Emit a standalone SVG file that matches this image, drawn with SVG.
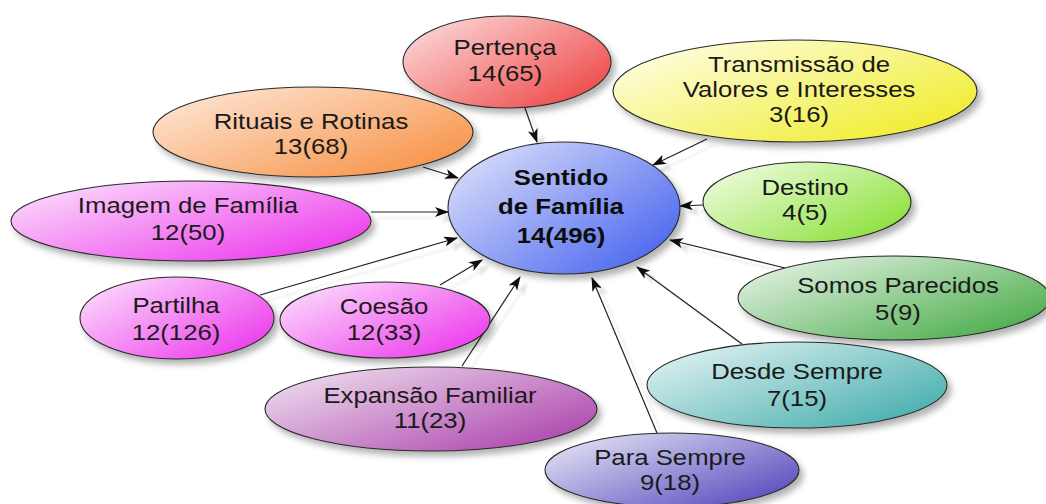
<svg xmlns="http://www.w3.org/2000/svg" width="1046" height="504" viewBox="0 0 1046 504">
<style>
.n{stroke:#2a2a2a;stroke-width:1.1}
.t{font-family:"Liberation Sans",Arial,sans-serif;font-size:22px;fill:#1a1a1a;text-anchor:middle}
.b{font-weight:bold;fill:#0d0d0d}
.c{stroke:#222;stroke-width:1.2;fill:none;marker-end:url(#ah)}
</style>
<defs>
<filter id="sh" x="-20%" y="-20%" width="140%" height="150%">
<feDropShadow dx="4" dy="5" stdDeviation="3" flood-color="#000" flood-opacity="0.3"/>
</filter>
<filter id="csh" x="-20%" y="-20%" width="140%" height="140%">
<feDropShadow dx="7" dy="6" stdDeviation="1.2" flood-color="#000" flood-opacity="0.1"/>
</filter>
<marker id="ah" viewBox="0 0 14 10" refX="13" refY="5" markerWidth="14" markerHeight="10" markerUnits="userSpaceOnUse" orient="auto">
<path d="M0,0 L14,5 L0,10 L3.5,5 z" fill="#111"/>
</marker>
<linearGradient id="gC" x1="0" y1="0" x2="1" y2="0.8"><stop offset="0" stop-color="#e6e8fb"/><stop offset="1" stop-color="#4a66ee"/></linearGradient>
<linearGradient id="gP" x1="0" y1="0" x2="1" y2="0.8"><stop offset="0" stop-color="#fde4e4"/><stop offset="1" stop-color="#ee4848"/></linearGradient>
<linearGradient id="gT" x1="0" y1="0" x2="1" y2="0.8"><stop offset="0" stop-color="#fffff2"/><stop offset="1" stop-color="#f0ec2c"/></linearGradient>
<linearGradient id="gR" x1="0" y1="0" x2="1" y2="0.8"><stop offset="0" stop-color="#feece0"/><stop offset="1" stop-color="#f79246"/></linearGradient>
<linearGradient id="gD" x1="0" y1="0" x2="1" y2="0.8"><stop offset="0" stop-color="#f6ffec"/><stop offset="1" stop-color="#8ce03a"/></linearGradient>
<linearGradient id="gM" x1="0" y1="0" x2="1" y2="0.8"><stop offset="0" stop-color="#fde8fd"/><stop offset="1" stop-color="#ec3aec"/></linearGradient>
<linearGradient id="gE" x1="0" y1="0" x2="1" y2="0.8"><stop offset="0" stop-color="#f2e9f2"/><stop offset="1" stop-color="#ae46ae"/></linearGradient>
<linearGradient id="gS" x1="0" y1="0" x2="1" y2="0.8"><stop offset="0" stop-color="#eeeef8"/><stop offset="1" stop-color="#584cbe"/></linearGradient>
<linearGradient id="gDS" x1="0" y1="0" x2="1" y2="0.8"><stop offset="0" stop-color="#edf7f7"/><stop offset="1" stop-color="#46aeae"/></linearGradient>
<linearGradient id="gSP" x1="0" y1="0" x2="1" y2="0.8"><stop offset="0" stop-color="#f0f7f0"/><stop offset="1" stop-color="#4aac4a"/></linearGradient>
</defs>
<rect width="1046" height="504" fill="#fff"/>
<g id="connectors" filter="url(#csh)">
<line class="c" x1="525" y1="108" x2="537" y2="142"/>
<line class="c" x1="707" y1="139" x2="653" y2="165"/>
<line class="c" x1="423" y1="167" x2="458" y2="178"/>
<line class="c" x1="371" y1="212" x2="448" y2="212"/>
<line class="c" x1="703" y1="205" x2="680" y2="206"/>
<line class="c" x1="785" y1="268" x2="670" y2="240"/>
<line class="c" x1="742" y1="344" x2="637" y2="267"/>
<line class="c" x1="657" y1="433" x2="592" y2="278"/>
<line class="c" x1="462" y1="366" x2="520" y2="277"/>
<line class="c" x1="440" y1="285" x2="482" y2="260"/>
<line class="c" x1="260" y1="295" x2="457" y2="238"/>
</g>
<g id="pertenca">
<ellipse class="n" cx="507" cy="62" rx="104" ry="46" fill="url(#gP)" filter="url(#sh)"/>
<text class="t" transform="translate(505,0) scale(1.17,1)" y="55">Pertença</text>
<text class="t" transform="translate(505,0) scale(1.17,1)" y="81">14(65)</text>
</g>
<g id="transmissao">
<ellipse class="n" cx="795" cy="91" rx="182" ry="51" fill="url(#gT)" filter="url(#sh)"/>
<text class="t" transform="translate(799,0) scale(1.17,1)" y="72">Transmissão de</text>
<text class="t" transform="translate(799,0) scale(1.17,1)" y="97">Valores e Interesses</text>
<text class="t" transform="translate(799,0) scale(1.17,1)" y="122">3(16)</text>
</g>
<g id="rituais">
<ellipse class="n" cx="313" cy="132" rx="160" ry="45" fill="url(#gR)" filter="url(#sh)"/>
<text class="t" transform="translate(311,0) scale(1.17,1)" y="129">Rituais e Rotinas</text>
<text class="t" transform="translate(311,0) scale(1.17,1)" y="154">13(68)</text>
</g>
<g id="imagem">
<ellipse class="n" cx="191" cy="221" rx="180" ry="40" fill="url(#gM)" filter="url(#sh)"/>
<text class="t" transform="translate(188,0) scale(1.17,1)" y="213">Imagem de Família</text>
<text class="t" transform="translate(188,0) scale(1.17,1)" y="240">12(50)</text>
</g>
<g id="destino">
<ellipse class="n" cx="807" cy="202" rx="104" ry="40" fill="url(#gD)" filter="url(#sh)"/>
<text class="t" transform="translate(805,0) scale(1.17,1)" y="195">Destino</text>
<text class="t" transform="translate(805,0) scale(1.17,1)" y="220">4(5)</text>
</g>
<g id="somos">
<ellipse class="n" cx="894" cy="298" rx="156" ry="42" fill="url(#gSP)" filter="url(#sh)"/>
<text class="t" transform="translate(898,0) scale(1.17,1)" y="293">Somos Parecidos</text>
<text class="t" transform="translate(898,0) scale(1.17,1)" y="320">5(9)</text>
</g>
<g id="partilha">
<ellipse class="n" cx="177" cy="318" rx="97" ry="41" fill="url(#gM)" filter="url(#sh)"/>
<text class="t" transform="translate(176,0) scale(1.17,1)" y="313">Partilha</text>
<text class="t" transform="translate(176,0) scale(1.17,1)" y="340">12(126)</text>
</g>
<g id="coesao">
<ellipse class="n" cx="385" cy="320" rx="105" ry="38" fill="url(#gM)" filter="url(#sh)"/>
<text class="t" transform="translate(384,0) scale(1.17,1)" y="314">Coesão</text>
<text class="t" transform="translate(384,0) scale(1.17,1)" y="340">12(33)</text>
</g>
<g id="desde">
<ellipse class="n" cx="797" cy="385" rx="150" ry="43" fill="url(#gDS)" filter="url(#sh)"/>
<text class="t" transform="translate(797,0) scale(1.17,1)" y="379">Desde Sempre</text>
<text class="t" transform="translate(797,0) scale(1.17,1)" y="406">7(15)</text>
</g>
<g id="expansao">
<ellipse class="n" cx="431" cy="409" rx="166" ry="42" fill="url(#gE)" filter="url(#sh)"/>
<text class="t" transform="translate(430,0) scale(1.17,1)" y="403">Expansão Familiar</text>
<text class="t" transform="translate(430,0) scale(1.17,1)" y="428">11(23)</text>
</g>
<g id="para">
<ellipse class="n" cx="672" cy="470" rx="127" ry="37" fill="url(#gS)" filter="url(#sh)"/>
<text class="t" transform="translate(670,0) scale(1.17,1)" y="465">Para Sempre</text>
<text class="t" transform="translate(670,0) scale(1.17,1)" y="490">9(18)</text>
</g>
<g id="sentido">
<ellipse class="n" cx="564" cy="208" rx="116" ry="66" fill="url(#gC)" filter="url(#sh)"/>
<text class="t b" transform="translate(561,0) scale(1.17,1)" y="185">Sentido</text>
<text class="t b" transform="translate(561,0) scale(1.17,1)" y="214">de Família</text>
<text class="t b" transform="translate(561,0) scale(1.17,1)" y="243">14(496)</text>
</g>
</svg>
